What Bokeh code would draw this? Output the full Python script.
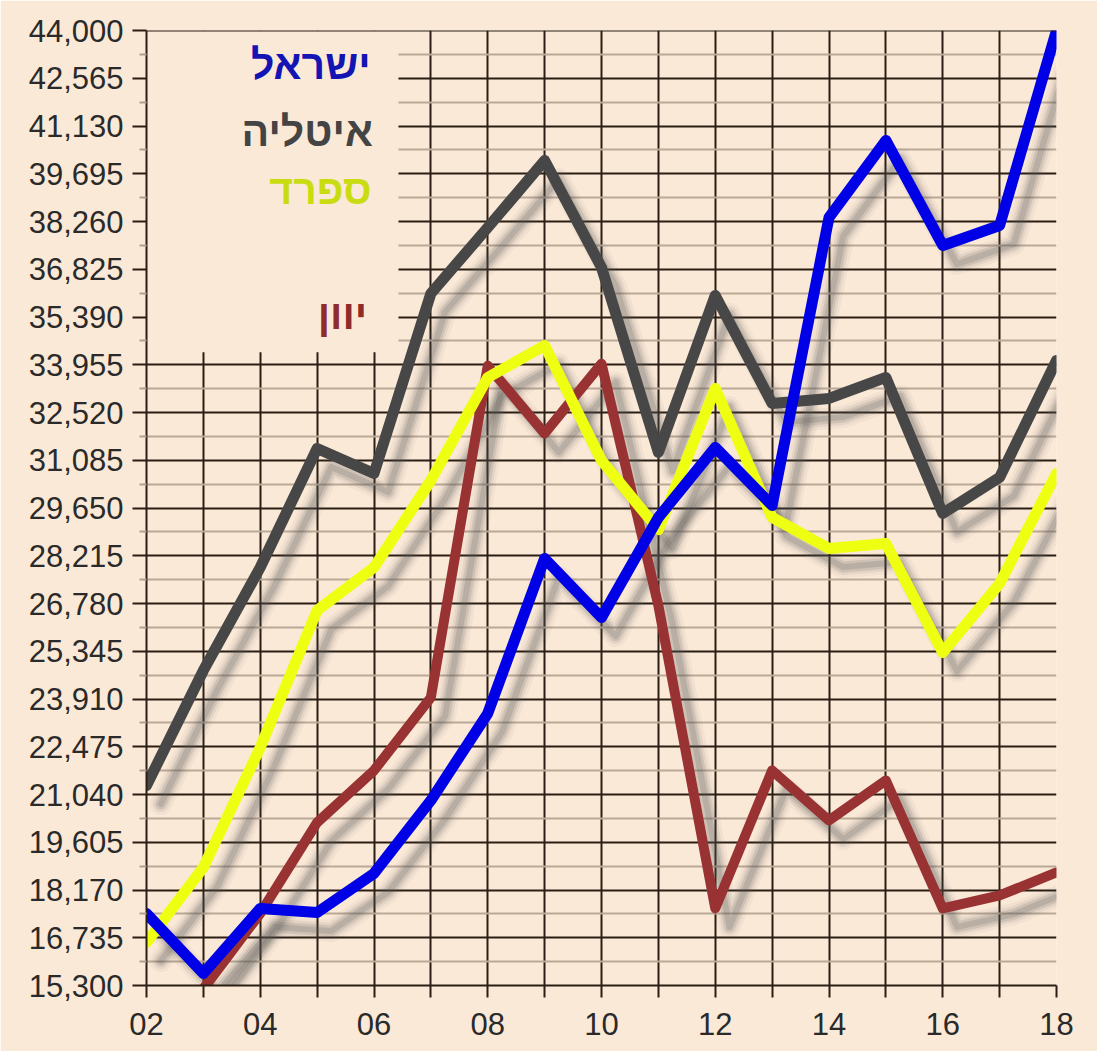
from bokeh.plotting import figure
from bokeh.models import Range1d, FixedTicker, NumeralTickFormatter, Span, ColumnDataSource
from bokeh.transform import dodge
from bokeh.core.properties import value
from bokeh.embed import file_html
from bokeh.resources import INLINE

# ---------------- data ----------------
years = list(range(2, 19))
israel = [17466, 15663, 17616, 17496, 18668, 20862, 23475, 28134, 26360,
          29366, 31469, 29726, 38380, 40695, 37539, 38140, 44000]
italy = [21312, 24768, 27863, 31439, 30688, 36097, 38080, 40094, 36878,
         31318, 36037, 32791, 32942, 33573, 29486, 30568, 34084]
spain = [16594, 18848, 22454, 26571, 27863, 30480, 33573, 34534, 31079,
         29000, 33242, 29366, 28434, 28584, 25309, 27382, 30688]
greece_years = list(range(3, 19))
greece = [15200, 17466, 20200, 21763, 23956, 33925, 31890, 33985, 26720,
          17616, 21763, 20260, 21462, 17616, 18007, 18698]

y_ticks = [15300, 16735, 18170, 19605, 21040, 22475, 23910, 25345, 26780,
           28215, 29650, 31085, 32520, 33955, 35390, 36825, 38260, 39695,
           41130, 42565, 44000]
x_labels = {y: ("%02d" % y if y % 2 == 0 else "") for y in years}

legend_names = ["ישראל", "איטליה", "ספרד", "יוון"]
legend_colors = ["#1414b4", "#444444", "#c9dc12", "#8e2b2b"]

# ---------------- style ----------------
BG = "#fbe9d7"
DARK = "#2a1e14"
FONT = "Liberation Sans"

p = figure(frame_width=910, frame_height=955,
           x_range=Range1d(2, 18), y_range=Range1d(15300, 44000),
           output_backend="svg", toolbar_location=None,
           min_border_left=146, min_border_right=41,
           min_border_top=30, min_border_bottom=66,
           background_fill_color=BG, border_fill_color=BG)
p.outline_line_color = None

# grids
p.xgrid.ticker = FixedTicker(ticks=years)
p.xgrid.grid_line_color = DARK
p.xgrid.grid_line_width = 2
minor = [a + (b - a) / 2 for a, b in zip(y_ticks[:-1], y_ticks[1:])]
yt = FixedTicker(ticks=y_ticks, minor_ticks=minor)
p.ygrid.ticker = yt
p.ygrid.grid_line_color = DARK
p.ygrid.grid_line_width = 2
p.ygrid.minor_grid_line_color = "#bba997"
p.ygrid.minor_grid_line_width = 2

# axes
p.yaxis.ticker = yt
p.yaxis.formatter = NumeralTickFormatter(format="0,0")
p.xaxis.ticker = FixedTicker(ticks=years)
p.xaxis.major_label_overrides = x_labels
for ax in (p.xaxis[0], p.yaxis[0]):
    ax.axis_line_color = DARK
    ax.axis_line_width = 2
    ax.major_tick_line_color = DARK
    ax.major_tick_line_width = 2
    ax.major_tick_in = 0
    ax.major_label_text_font = FONT
    ax.major_label_text_font_size = "31px"
    ax.major_label_text_color = "#2a2a2a"
p.yaxis.major_tick_out = 14
p.yaxis.major_label_standoff = 9
p.yaxis.minor_tick_line_color = "#b0a08e"
p.yaxis.minor_tick_line_width = 2
p.yaxis.minor_tick_out = 7
p.yaxis.minor_tick_in = 0
p.xaxis.major_tick_out = 12
p.xaxis.major_label_standoff = 15
p.xaxis.minor_tick_line_color = None

# legend panel (hides the grid in the upper left corner)
p.quad(left=[2], right=[6.43], bottom=[34330], top=[44000],
       fill_color=BG, line_color=None)
p.add_layout(Span(location=44000, dimension="width", line_color=DARK,
                  line_width=2, level="overlay"))

series = [
    (greece_years, greece, "#993333", 10),
    (years, italy, "#474747", 11),
    (years, spain, "#eeff11", 11),
    (years, israel, "#0000e6", 11),
]

# shadows first
for xs, ys, col, w in series:
    src = ColumnDataSource(dict(x=xs, y=ys))
    for sw, sa in ((22, 0.05), (16, 0.09), (11, 0.14), (6, 0.18)):
        p.line(x=dodge("x", 0.25, range=p.x_range), y=dodge("y", -560, range=p.y_range),
               source=src, line_color="#555555", line_alpha=sa, line_width=sw,
               line_join="round", line_cap="round")

for xs, ys, col, w in series:
    src = ColumnDataSource(dict(x=xs, y=ys))
    p.line(x="x", y="y", source=src, line_color=col, line_width=w,
           line_join="round", line_cap="round")

# legend texts
leg = ColumnDataSource(dict(x=[5.94, 5.98, 5.96, 5.88],
                            y=[42950, 40935, 39192, 35436],
                            t=legend_names, c=legend_colors))
p.text(x="x", y="y", text="t", text_color="c", source=leg,
       text_font=value(FONT), text_font_size="41px", text_font_style="bold",
       text_align="right", text_baseline="middle")

open("out.html", "w").write(file_html(p, INLINE))
